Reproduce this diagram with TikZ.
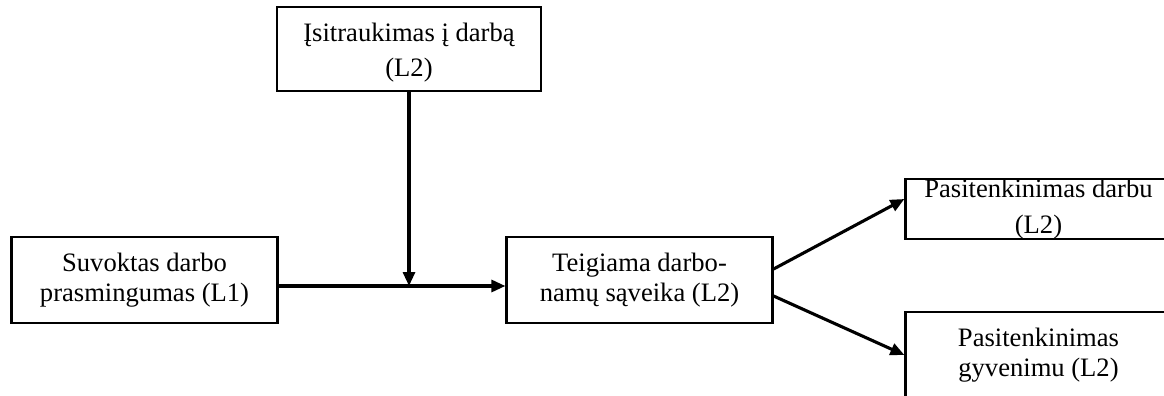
\documentclass[tikz,border=0pt]{standalone}
\usepackage{fontspec}
\setmainfont{Liberation Serif}
\usetikzlibrary{arrows.meta}
\begin{document}
\begin{tikzpicture}[x=1pt,y=-1pt,
  box/.style={draw=black,line width=2.2pt,rectangle,inner sep=0pt,
    minimum width=266pt,minimum height=86pt,align=center,
    font=\fontsize{26.6}{30}\selectfont},
  link/.style={line width=3.1pt,-{Triangle[length=14pt,width=12pt]}}]
\useasboundingbox (0,0) rectangle (1164,396);
% variables of the model
\node[box,minimum width=264pt,minimum height=84pt,font=\fontsize{26.6}{35}\selectfont] (engage) at (409,49)
  {\raisebox{-3pt}[\height][\depth]{\begin{tabular}{@{}c@{}}Įsitraukimas į darbą\\(L2)\end{tabular}}};
\node[box] (meaning) at (144.5,280) {Suvoktas darbo\\prasmingumas (L1)};
\node[box] (balance) at (639.5,280) {Teigiama darbo-\\namų sąveika (L2)};
\node[box,minimum height=58pt,font=\fontsize{26.6}{36}\selectfont] (jobsat) at (1038.5,209)
  {Pasitenkinimas darbu\\(L2)};
\node[box] (lifesat) at (1038.5,355) {Pasitenkinimas\\gyvenimu (L2)};
% moderation point on the main path
\coordinate (mod) at (engage.south |- 0,286);
% paths
\draw[link,-] (meaning.east |- mod) -- (mod);
\draw[link] (mod) -- (balance.west |- mod);
\draw[link] (engage.south) -- (mod);
\draw[link] ([yshift=11pt]balance.east) -- ([yshift=10pt]jobsat.west);
\draw[link] ([yshift=-16pt]balance.east) -- (lifesat.west);
\end{tikzpicture}
\end{document}
